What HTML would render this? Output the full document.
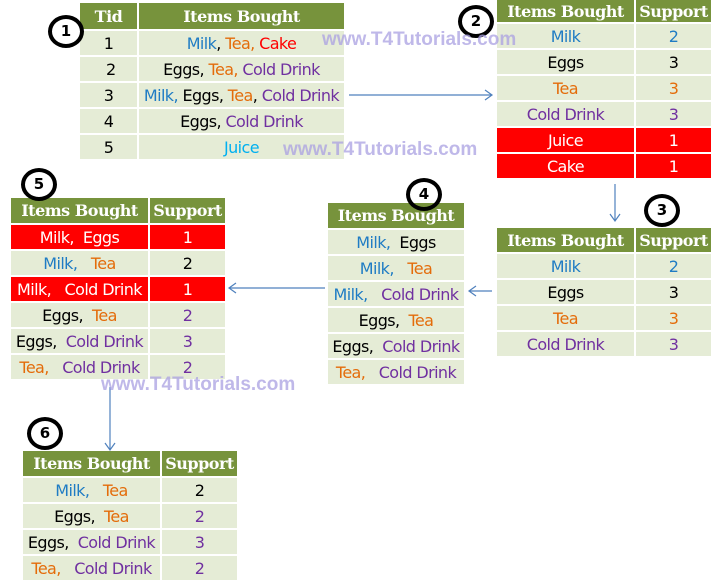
<!DOCTYPE html>
<html><head><meta charset="utf-8"><style>
body{margin:0;width:720px;height:588px;background:#fff;position:relative;overflow:hidden;font-family:"DejaVu Sans","Liberation Sans",sans-serif;}
table{position:absolute;border-collapse:collapse;table-layout:fixed;}
td{border:2px solid #fff;background:#e5ecd6;text-align:center;padding:0;font-size:16px;color:#000;white-space:nowrap;overflow:hidden;letter-spacing:-0.6px}
th{border:2px solid #fff;background:#77933c;color:#fff;font-family:"DejaVu Serif","Liberation Serif",serif;font-weight:bold;font-size:16px;padding:0;white-space:nowrap;letter-spacing:-0.5px}
td.x{background:#ff0000;color:#fff}
.b{color:#1f7cc4}.o{color:#e46c0a}.p{color:#7030a0}.r{color:#ff0000}.c{color:#00b0f0}
.circ{position:absolute;width:28px;height:25px;border:4px solid #000;border-radius:50%;font-weight:bold;font-size:15px;text-align:center;line-height:25px;background:transparent;z-index:3}
.wm{position:absolute;font-family:"Liberation Sans",sans-serif;font-weight:bold;font-size:19px;color:rgba(170,160,225,0.75);z-index:4}
svg{position:absolute;left:0;top:0;z-index:2}
</style></head><body>

<table style="left:78px;top:1px;width:268px">
<tr style="height:28px"><th style="width:57px">Tid</th><th>Items Bought</th></tr>
<tr style="height:26px"><td>1</td><td><span class="b">Milk</span>, <span class="o">Tea,</span> <span class="r">Cake</span></td></tr>
<tr style="height:26px"><td>&nbsp;2</td><td>Eggs, <span class="o">Tea,</span> <span class="p">Cold Drink</span></td></tr>
<tr style="height:26px"><td>3</td><td><span class="b">Milk,</span> Eggs, <span class="o">Tea</span>, <span class="p">Cold Drink</span></td></tr>
<tr style="height:26px"><td>4</td><td>Eggs, <span class="p">Cold Drink</span></td></tr>
<tr style="height:26px"><td>5</td><td><span class="c">Juice</span></td></tr>
</table>

<table style="left:495px;top:-2px;width:218px">
<tr style="height:24px"><th style="width:137px">Items Bought</th><th>Support</th></tr>
<tr style="height:26px"><td class="b">Milk</td><td class="b">2</td></tr>
<tr style="height:26px"><td>Eggs</td><td>3</td></tr>
<tr style="height:26px"><td class="o">Tea</td><td class="o">3</td></tr>
<tr style="height:26px"><td class="p">Cold Drink</td><td class="p">3</td></tr>
<tr style="height:26px"><td class="x">Juice</td><td class="x">1</td></tr>
<tr style="height:26px"><td class="x">Cake</td><td class="x">1</td></tr>
</table>

<table style="left:495px;top:226px;width:218px">
<tr style="height:26px"><th style="width:137px">Items Bought</th><th>Support</th></tr>
<tr style="height:26px"><td class="b">Milk</td><td class="b">2</td></tr>
<tr style="height:26px"><td>Eggs</td><td>3</td></tr>
<tr style="height:26px"><td class="o">Tea</td><td class="o">3</td></tr>
<tr style="height:26px"><td class="p">Cold Drink</td><td class="p">3</td></tr>
</table>

<table style="left:326px;top:201px;width:140px">
<tr style="height:27px"><th>Items Bought</th></tr>
<tr style="height:26px"><td><span class="b">Milk,</span>&nbsp; Eggs</td></tr>
<tr style="height:26px"><td><span class="b">Milk,</span>&nbsp;&nbsp; <span class="o">Tea</span></td></tr>
<tr style="height:26px"><td><span class="b">Milk,</span>&nbsp;&nbsp; <span class="p">Cold Drink</span></td></tr>
<tr style="height:26px"><td>Eggs,&nbsp; <span class="o">Tea</span></td></tr>
<tr style="height:26px"><td>Eggs,&nbsp; <span class="p">Cold Drink</span></td></tr>
<tr style="height:26px"><td><span class="o">Tea,</span>&nbsp;&nbsp; <span class="p">Cold Drink</span></td></tr>
</table>

<table style="left:9px;top:196px;width:218px">
<tr style="height:27px"><th style="width:137px">Items Bought</th><th>Support</th></tr>
<tr style="height:26px"><td class="x">Milk,&nbsp; Eggs</td><td class="x">1</td></tr>
<tr style="height:26px"><td><span class="b">Milk,</span>&nbsp;&nbsp; <span class="o">Tea</span></td><td>2</td></tr>
<tr style="height:26px"><td class="x">Milk,&nbsp;&nbsp; Cold Drink</td><td class="x">1</td></tr>
<tr style="height:26px"><td>Eggs,&nbsp; <span class="o">Tea</span></td><td class="p">2</td></tr>
<tr style="height:26px"><td>Eggs,&nbsp; <span class="p">Cold Drink</span></td><td class="p">3</td></tr>
<tr style="height:26px"><td><span class="o">Tea,</span>&nbsp;&nbsp; <span class="p">Cold Drink</span></td><td class="p">2</td></tr>
</table>

<table style="left:21px;top:449px;width:218px">
<tr style="height:27px"><th style="width:137px">Items Bought</th><th>Support</th></tr>
<tr style="height:26px"><td><span class="b">Milk,</span>&nbsp;&nbsp; <span class="o">Tea</span></td><td>2</td></tr>
<tr style="height:26px"><td>Eggs,&nbsp; <span class="o">Tea</span></td><td class="p">2</td></tr>
<tr style="height:26px"><td>Eggs,&nbsp; <span class="p">Cold Drink</span></td><td class="p">3</td></tr>
<tr style="height:26px"><td><span class="o">Tea,</span>&nbsp;&nbsp; <span class="p">Cold Drink</span></td><td class="p">2</td></tr>
</table>

<svg width="720" height="588" fill="none" stroke="#4f81bd" stroke-width="1.2">
<path d="M349 95H492M485 90L492 95L485 100"/>
<path d="M615 184V221M610 214L615 221L620 214"/>
<path d="M492 291H469M476 286L469 291L476 296"/>
<path d="M325 288H229M236 283L229 288L236 293"/>
<path d="M110 387V450M105 443L110 450L115 443"/>
</svg>

<div class="circ" style="left:48px;top:15px">1</div>
<div class="circ" style="left:458px;top:5px">2</div>
<div class="circ" style="left:644px;top:194px">3</div>
<div class="circ" style="left:406px;top:178px">4</div>
<div class="circ" style="left:21px;top:168px">5</div>
<div class="circ" style="left:27px;top:417px">6</div>

<div class="wm" style="left:322px;top:29px">www.T4Tutorials.com</div>
<div class="wm" style="left:283px;top:139px">www.T4Tutorials.com</div>
<div class="wm" style="left:101px;top:374px">www.T4Tutorials.com</div>
</body></html>
